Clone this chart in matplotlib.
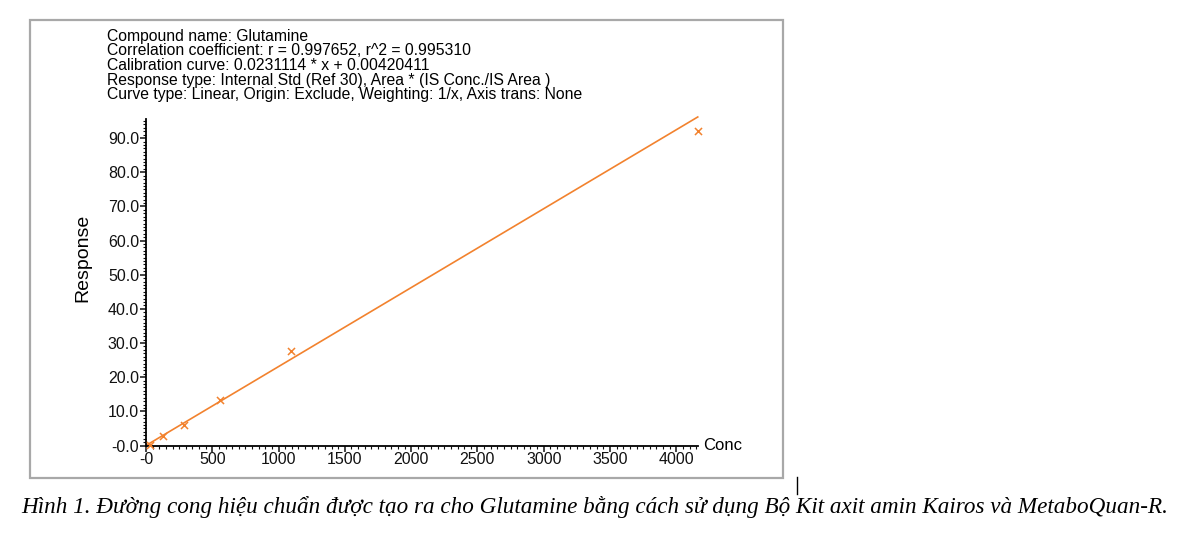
import numpy as np
import matplotlib
matplotlib.use('Agg')
import matplotlib.pyplot as plt
from matplotlib.ticker import MultipleLocator, FuncFormatter
from matplotlib.patches import Rectangle
from matplotlib.lines import Line2D

# calibration data
conc = [30, 125, 285, 560, 1095, 4162]
response = [0.2, 2.8, 6.1, 13.4, 27.7, 92.0]
slope = 0.0231114
intercept = 0.00420411

header_lines = [
    'Compound name: Glutamine',
    'Correlation coefficient: r = 0.997652, r^2 = 0.995310',
    'Calibration curve: 0.0231114 * x + 0.00420411',
    'Response type: Internal Std (Ref 30), Area * (IS Conc./IS Area )',
    'Curve type: Linear, Origin: Exclude, Weighting: 1/x, Axis trans: None',
]
caption = ('Hình 1. Đường cong hiệu chuẩn được tạo ra cho Glutamine bằng cách '
           'sử dụng Bộ Kit axit amin Kairos và MetaboQuan-R.')

W, H = 1184, 546
orange = '#f2822e'
plt.rcParams['font.family'] = ['Liberation Sans', 'DejaVu Sans']

fig = plt.figure(figsize=(W / 100, H / 100), dpi=100)
fig.patch.set_facecolor('white')

# outer frame of the screenshot
fig.patches.append(Rectangle((30 / W, 1 - 478 / H), (783 - 30) / W, (478 - 20) / H,
                             transform=fig.transFigure, fill=False,
                             edgecolor='#a8a8a8', lw=1.6))

ax = fig.add_axes([146 / W, 1 - 445.5 / H, (697.5 - 146) / W, (445.5 - 119) / H])

xs = np.array([0, conc[-1]])
ax.plot(xs, slope * xs + intercept, color=orange, lw=1.2, clip_on=False)
ax.scatter(conc, response, marker='x', s=26, color=orange, lw=1.1, clip_on=False, zorder=3)

ax.set_xlim(0, 4160)
ax.set_ylim(0, 95.6)
ax.spines['top'].set_visible(False)
ax.spines['right'].set_visible(False)
for s in ('left', 'bottom'):
    ax.spines[s].set_linewidth(1.3)

ax.xaxis.set_major_locator(MultipleLocator(500))
ax.xaxis.set_minor_locator(MultipleLocator(50))
ax.yaxis.set_major_locator(MultipleLocator(10))
ax.yaxis.set_minor_locator(MultipleLocator(1))
ax.xaxis.set_major_formatter(FuncFormatter(lambda v, p: '-0' if v == 0 else '%d' % v))
ax.yaxis.set_major_formatter(FuncFormatter(lambda v, p: '-0.0' if v == 0 else '%.1f' % v))
ax.tick_params(which='major', length=4, width=1.1, labelsize=11.5, pad=1, colors='#111111')
ax.tick_params(which='minor', length=2, width=0.8, colors='#111111')

fig.text(83 / W, 1 - 258 / H, 'Response', fontsize=14, rotation=90, va='center', ha='center')
ax.text(1.01, 0.0, 'Conc', transform=ax.transAxes, fontsize=12, va='center', ha='left')

# header text block
for i, line in enumerate(header_lines):
    fig.text(107 / W, 1 - (36 + i * 14.7) / H, line, fontsize=11.3, va='center', ha='left')

fig.text(595 / W, 1 - 507 / H, caption, fontsize=16.7, style='italic', va='center', ha='center',
         family=['Liberation Serif', 'DejaVu Serif'])

# small cursor mark at the right of the frame
fig.add_artist(Line2D([797 / W, 797 / W], [1 - 477 / H, 1 - 494 / H],
                      transform=fig.transFigure, color='black', lw=1))

fig.savefig('out.png', dpi=100)
